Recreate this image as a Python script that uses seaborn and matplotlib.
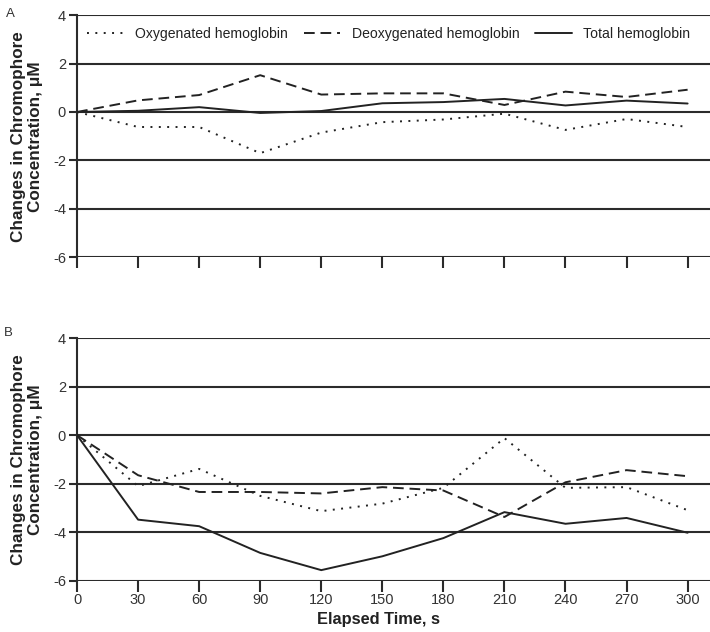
import seaborn as sns
import pandas as pd
import numpy as np
import matplotlib
matplotlib.use('Agg')
import matplotlib.pyplot as plt

# elapsed time (s)
time_s = [0, 30, 60, 90, 120, 150, 180, 210, 240, 270, 300]

# panel A
oxy_a = [0, -0.62, -0.62, -1.70, -0.85, -0.42, -0.31, -0.07, -0.74, -0.29, -0.62]
deoxy_a = [0, 0.48, 0.70, 1.52, 0.72, 0.77, 0.77, 0.29, 0.84, 0.62, 0.92]
total_a = [0, 0.05, 0.20, -0.04, 0.04, 0.36, 0.41, 0.54, 0.27, 0.47, 0.35]

# panel B
oxy_b = [0, -2.10, -1.39, -2.50, -3.13, -2.82, -2.17, -0.12, -2.17, -2.14, -3.09]
deoxy_b = [0, -1.65, -2.34, -2.34, -2.40, -2.14, -2.28, -3.37, -1.94, -1.44, -1.69]
total_b = [0, -3.48, -3.75, -4.85, -5.56, -4.99, -4.24, -3.17, -3.65, -3.41, -4.02]

series_names = ['Oxygenated hemoglobin', 'Deoxygenated hemoglobin', 'Total hemoglobin']
y_ticks = [4, 2, 0, -2, -4, -6]

sns.set_theme(style='white')
plt.rcParams['font.family'] = ['Liberation Sans', 'DejaVu Sans']
plt.rcParams['axes.unicode_minus'] = False

ink = '#2b2b2b'
fig = plt.figure(figsize=(7.1, 6.32), dpi=100)
ax_a = fig.add_axes([0.1085, 0.593, 0.8915, 0.383])
ax_b = fig.add_axes([0.1085, 0.081, 0.8915, 0.384])

dash_map = {
    'Oxygenated hemoglobin': (1, 3.3),
    'Deoxygenated hemoglobin': (5.5, 3),
    'Total hemoglobin': '',
}


def make_frame(oxy, deoxy, total):
    rows = []
    for name, vals in zip(series_names, [oxy, deoxy, total]):
        for t, v in zip(time_s, vals):
            rows.append({'time': t, 'value': v, 'series': name})
    return pd.DataFrame(rows)


for ax, data, letter in [(ax_a, make_frame(oxy_a, deoxy_a, total_a), 'A'),
                         (ax_b, make_frame(oxy_b, deoxy_b, total_b), 'B')]:
    for yt in y_ticks:
        ax.axhline(yt, color=ink, lw=1.5, zorder=1)
    sns.lineplot(data=data, x='time', y='value', style='series',
                 style_order=series_names, dashes=dash_map,
                 color='#222222', lw=1.4, ax=ax, legend=(letter == 'A'), zorder=3)
    ax.set_xlim(0, 311)
    ax.set_ylim(-6, 4)
    ax.set_xticks(time_s)
    ax.set_yticks(y_ticks)
    for side in ['top', 'right', 'bottom']:
        ax.spines[side].set_visible(False)
    ax.spines['left'].set_color(ink)
    ax.spines['left'].set_linewidth(1.5)
    ax.tick_params(axis='x', direction='out', length=8, width=1.5, color=ink,
                   labelsize=10.5, labelcolor='#333333', bottom=True, pad=1)
    ax.tick_params(axis='y', direction='out', length=6, width=1.5, color=ink,
                   labelsize=10.5, labelcolor='#333333', left=True, pad=2)
    ax.set_ylabel('Changes in Chromophore\nConcentration, μM', fontsize=12.3,
                  fontweight='bold', color='#222222', labelpad=7, linespacing=1.15)
    ax.set_xlabel('')
    fig.text(0.008 if letter == 'A' else 0.006,
             0.988 if letter == 'A' else 0.482,
             letter, fontsize=9.5, color='#333333', va='top', ha='left')

ax_a.tick_params(axis='x', labelbottom=False)

handles, labels = ax_a.get_legend_handles_labels()
ax_a.legend(handles, labels, loc='upper left', bbox_to_anchor=(-0.004, 1.005),
            ncol=3, frameon=False, fontsize=10.1, handlelength=2.6,
            handletextpad=0.8, columnspacing=1.15, labelcolor='#222222')

ax_b.set_xlabel('Elapsed Time, s', fontsize=11.8, fontweight='bold', color='#222222')
ax_b.xaxis.set_label_coords(0.476, -0.13)

fig.savefig('out.png', dpi=100)
